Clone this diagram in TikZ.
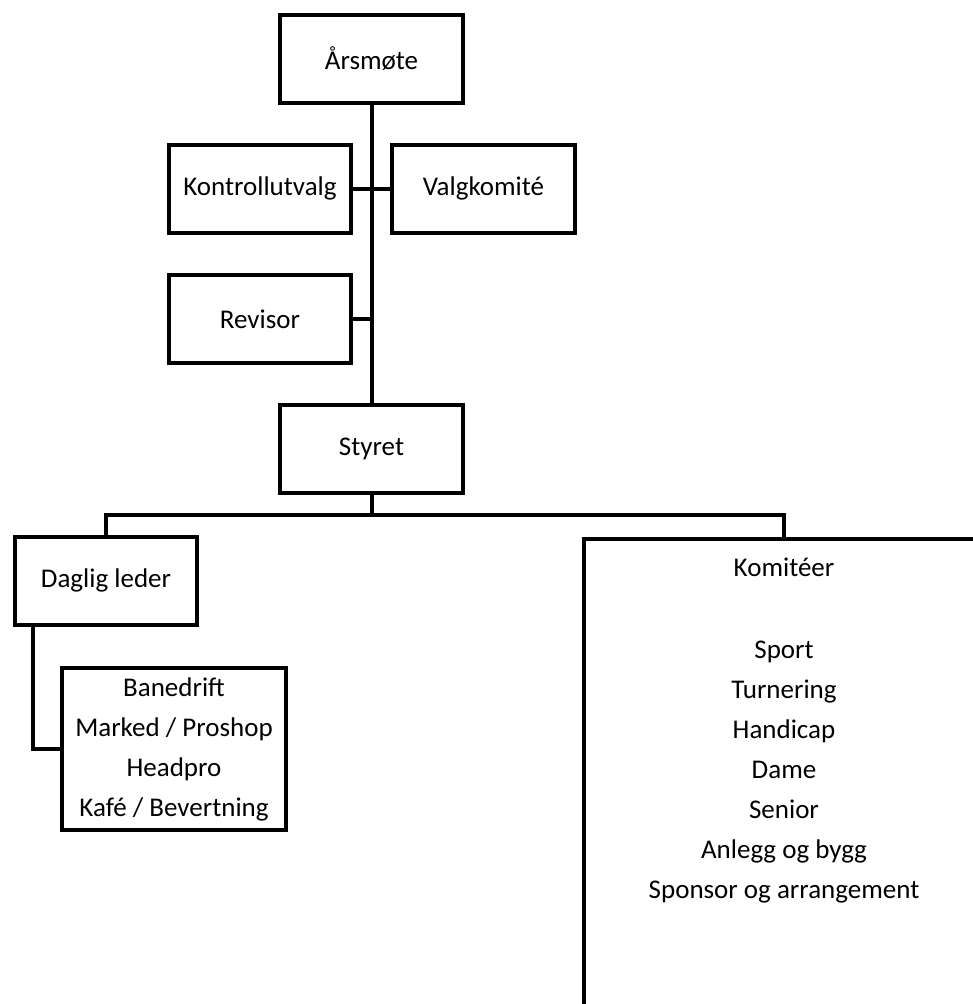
\documentclass[tikz,border=0pt]{standalone}
\usepackage{fontspec}
\setmainfont{Carlito}
\begin{document}
\begin{tikzpicture}[x=1pt,y=-1pt,
  line width=4pt, line join=miter,
  txt/.style={font=\fontsize{27}{40}\selectfont, align=center},
  box/.style={draw, txt, inner sep=0pt, minimum width=182pt, minimum height=88pt},
  conn/.style={draw, line width=4pt}]
\useasboundingbox (0,0) rectangle (973,1004);
\clip (0,0) rectangle (973,1004);
\fill[white] (0,0) rectangle (973,1004);
\node[box, minimum width=183pt] (ars) at (371.5,58.5) {Årsmøte};
\node[box] (kontroll) at (260,188.5) {Kontrollutvalg};
\node[box, minimum width=183pt] (valg) at (483.5,188.5) {Valgkomité};
\node[box] (revisor) at (260,319) {Revisor};
\node[box, minimum width=183pt] (styret) at (371.5,449) {Styret};
\node[box] (daglig) at (106,580.5) {Daglig leder};
\node[box, minimum width=224pt, minimum height=162pt] (bane) at (174,749)
  {Banedrift\\Marked / Proshop\\Headpro\\Kafé / Bevertning};
\node[draw, inner sep=0pt, anchor=north west, minimum width=400pt, minimum height=520pt] (kom) at (582,537) {};
\node[txt, anchor=north] (komtext) at (kom.north |- 0,553)
  {Komitéer\\[2pt] \\Sport\\Turnering\\Handicap\\Dame\\Senior\\Anlegg og bygg\\Sponsor og arrangement};
\coordinate (split) at (styret.south |- 0,515);
\draw[conn] (ars.south) -- (styret.north);
\draw[conn] (kontroll.east) -- (valg.west);
\draw[conn] (revisor.east) -- (revisor.east -| ars.south);
\draw[conn] (styret.south) -- (split);
\draw[conn] (split) -| (daglig.north);
\draw[conn] (split) -| (kom.north);
\draw[conn] ([xshift=20pt]daglig.south west) |- (bane.west);
\end{tikzpicture}
\end{document}
